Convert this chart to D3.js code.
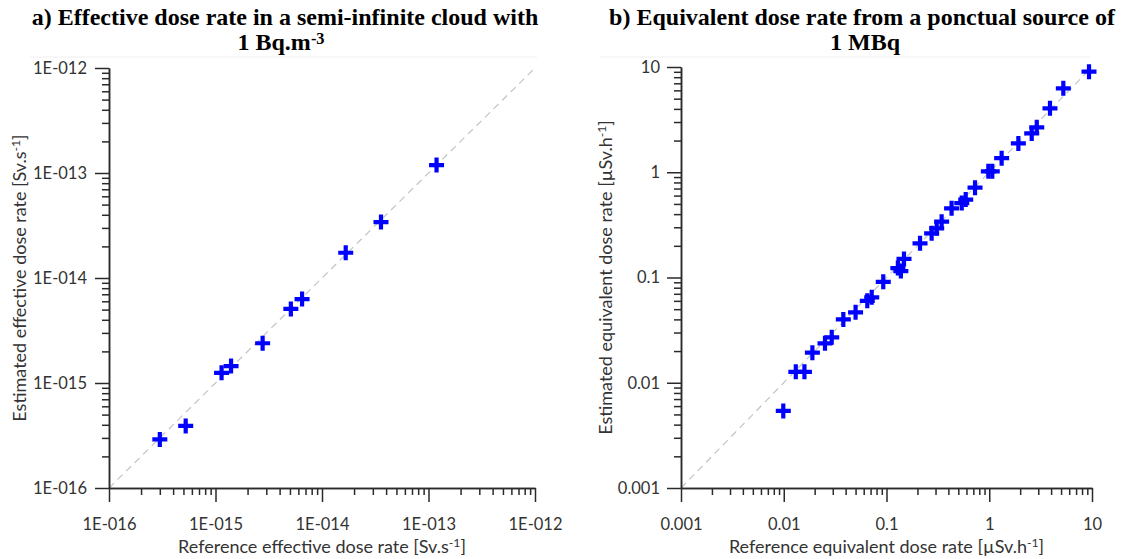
<!DOCTYPE html>
<html>
<head>
<meta charset="utf-8">
<script src="https://cdn.jsdelivr.net/npm/d3@7"></script>
<style>
  body { margin: 0; background: #fff; }
  svg { display: block; }
</style>
</head>
<body>
<div id="chart"></div>
<script>
// panel a : semi-infinite cloud, 1 Bq.m-3 (Sv.s-1)
var cloudRef = [3.0e-16, 5.25e-16, 1.14e-15, 1.4e-15, 2.77e-15, 5.1e-15, 6.5e-15, 1.67e-14, 3.58e-14, 1.19e-13];
var cloudEst = [2.9e-16, 3.9e-16, 1.25e-15, 1.45e-15, 2.39e-15, 5.07e-15, 6.3e-15, 1.74e-14, 3.41e-14, 1.19e-13];
var cloudTicks = [1e-16, 1e-15, 1e-14, 1e-13, 1e-12];
var cloudTickLabels = ["1E-016", "1E-015", "1E-014", "1E-013", "1E-012"];

// panel b : point source, 1 MBq (µSv.h-1)
var sourceRef = [0.0099, 0.0131, 0.0159, 0.019, 0.0252, 0.0293, 0.038, 0.050, 0.065, 0.0718, 0.093,
  0.129, 0.138, 0.148, 0.212, 0.275, 0.308, 0.344, 0.43, 0.54, 0.59, 0.727, 0.98, 1.07, 1.32, 1.92,
  2.59, 2.9, 3.9, 5.26, 9.35];
var sourceEst = [0.0054, 0.0127, 0.0127, 0.0193, 0.0237, 0.027, 0.040, 0.0467, 0.060, 0.0648, 0.091,
  0.123, 0.115, 0.150, 0.211, 0.263, 0.293, 0.339, 0.454, 0.51, 0.55, 0.713, 1.02, 1.02, 1.36, 1.88,
  2.34, 2.67, 4.05, 6.27, 9.02];
var sourceTicks = [0.001, 0.01, 0.1, 1, 10];
var sourceTickLabels = ["0.001", "0.01", "0.1", "1", "10"];

var svg = d3.select("#chart").append("svg")
    .attr("width", 1132)
    .attr("height", 559)
    .style("font-family", "Lato, 'Open Sans', sans-serif");

// text with ^{...} superscripts
function richText(sel, str) {
    var parts = str.split(/\^\{([^}]*)\}/);
    var lift = 0;
    parts.forEach(function (p, i) {
        if (p === "") return;
        var ts = sel.append("tspan").text(p);
        if (i % 2 === 1) {
            ts.attr("dy", -6).style("font-size", "68%");
            lift = 6;
        } else if (lift) {
            ts.attr("dy", lift);
            lift = 0;
        }
    });
}

function minorTicks(majors) {
    var out = [];
    majors.slice(0, -1).forEach(function (m) {
        for (var k = 2; k <= 9; k++) out.push(m * k);
    });
    return out;
}

function drawPanel(cfg) {
    var dom = [cfg.ticks[0], cfg.ticks[cfg.ticks.length - 1]];
    var x = d3.scaleLog().domain(dom).range([cfg.left, cfg.right]);
    var y = d3.scaleLog().domain(dom).range([cfg.bottom, cfg.top]);
    var g = svg.append("g");
    var labelOf = function (d) { return cfg.tickLabels[cfg.ticks.indexOf(d)]; };

    // faint rule under the title
    g.append("line")
        .attr("x1", cfg.ruleFrom).attr("x2", cfg.ruleTo)
        .attr("y1", 57).attr("y2", 57)
        .attr("stroke", "#efefef");

    // title
    cfg.title.forEach(function (line, i) {
        var t = g.append("text")
            .attr("x", cfg.titleX[i])
            .attr("y", 25 + i * 25)
            .attr("text-anchor", "middle")
            .style("font-family", "'Liberation Serif', 'Times New Roman', serif")
            .style("font-weight", "bold")
            .style("font-size", "24px")
            .attr("fill", "#000");
        richText(t, line);
    });

    // 1:1 line
    g.append("line")
        .attr("x1", x(dom[0])).attr("y1", y(dom[0]))
        .attr("x2", x(dom[1])).attr("y2", y(dom[1]))
        .attr("stroke", "#c4c4c4")
        .attr("stroke-width", 1.2)
        .attr("stroke-dasharray", "7,5");

    var styleAxis = function (a) {
        a.selectAll("path, line").attr("stroke", "#2a2a2a").attr("stroke-width", 1.5);
        a.selectAll("text").attr("fill", "#333").style("font-size", "16.5px")
            .style("font-family", "Lato, 'Open Sans', sans-serif");
    };

    // x axis
    g.append("g")
        .attr("transform", "translate(0," + cfg.bottom + ")")
        .call(d3.axisBottom(x).tickValues(minorTicks(cfg.ticks)).tickFormat("").tickSize(7).tickSizeOuter(0))
        .call(styleAxis);
    g.append("g")
        .attr("transform", "translate(0," + cfg.bottom + ")")
        .call(d3.axisBottom(x).tickValues(cfg.ticks).tickFormat(labelOf).tickSize(14).tickSizeOuter(0).tickPadding(16))
        .call(styleAxis);

    // y axis
    g.append("g")
        .attr("transform", "translate(" + cfg.left + ",0)")
        .call(d3.axisLeft(y).tickValues(minorTicks(cfg.ticks)).tickFormat("").tickSize(7).tickSizeOuter(0))
        .call(styleAxis);
    g.append("g")
        .attr("transform", "translate(" + cfg.left + ",0)")
        .call(d3.axisLeft(y).tickValues(cfg.ticks).tickFormat(labelOf).tickSize(14).tickSizeOuter(0).tickPadding(cfg.yPad))
        .call(styleAxis);

    // axis titles
    var xt = g.append("text")
        .attr("x", (cfg.left + cfg.right) / 2)
        .attr("y", 553)
        .attr("text-anchor", "middle")
        .attr("fill", "#333")
        .style("font-size", "18px");
    richText(xt, cfg.xLabel);

    var yt = g.append("text")
        .attr("transform", "translate(" + cfg.yLabelX + "," + (cfg.top + cfg.bottom) / 2 + ") rotate(-90)")
        .attr("text-anchor", "middle")
        .attr("fill", "#333")
        .style("font-size", "18px");
    richText(yt, cfg.yLabel);

    // points
    g.append("g")
        .selectAll("path")
        .data(cfg.ref.map(function (r, i) { return { r: r, e: cfg.est[i] }; }))
        .enter().append("path")
        .attr("transform", function (d) { return "translate(" + x(d.r) + "," + y(d.e) + ")"; })
        .attr("d", "M-7.5,0H7.5M0,-7.5V7.5")
        .attr("stroke", "#0000ff")
        .attr("stroke-width", 4.2)
        .attr("fill", "none");
}

drawPanel({
    left: 109, right: 535, top: 68, bottom: 488,
    ticks: cloudTicks, tickLabels: cloudTickLabels, yPad: 8,
    ref: cloudRef, est: cloudEst,
    title: ["a) Effective dose rate in a semi-infinite cloud with", "1 Bq.m^{-3}"],
    titleX: [285, 281], ruleFrom: 30, ruleTo: 537,
    xLabel: "Reference effective dose rate [Sv.s^{-1}]",
    yLabel: "Estimated effective dose rate [Sv.s^{-1}]",
    yLabelX: 26
});

drawPanel({
    left: 681, right: 1092, top: 67, bottom: 488,
    ticks: sourceTicks, tickLabels: sourceTickLabels, yPad: 7,
    ref: sourceRef, est: sourceEst,
    title: ["b) Equivalent dose rate from a ponctual source of", "1 MBq"],
    titleX: [862, 865], ruleFrom: 600, ruleTo: 1090,
    xLabel: "Reference equivalent dose rate [\u00b5Sv.h^{-1}]",
    yLabel: "Estimated equivalent dose rate [\u00b5Sv.h^{-1}]",
    yLabelX: 612
});
</script>
</body>
</html>
